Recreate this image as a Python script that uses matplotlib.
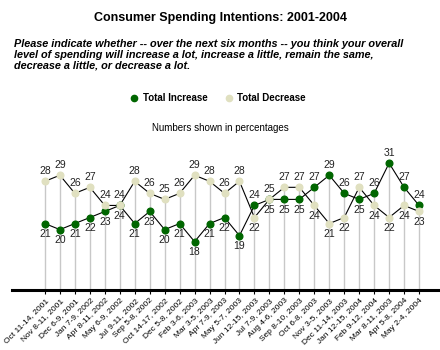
import matplotlib
matplotlib.use("Agg")
import matplotlib.pyplot as plt

plt.rcParams['font.family'] = ['Liberation Sans', 'DejaVu Sans']

# Data
dates = ["Oct 11-14, 2001", "Nov 8-11, 2001", "Dec 6-9, 2001", "Jan 7-9, 2002",
         "Apr 8-11, 2002", "May 6-9, 2002", "Jul 9-11, 2002", "Sep 5-8, 2002",
         "Oct 14-17, 2002", "Dec 5-8, 2002", "Feb 3-6, 2003", "Mar 3-5, 2003",
         "Apr 7-9, 2003", "May 5-7, 2003", "Jun 12-15, 2003", "Jul 7-9, 2003",
         "Aug 4-6, 2003", "Sep 8-10, 2003", "Oct 6-8, 2003", "Nov 3-5, 2003",
         "Dec 11-14, 2003", "Jan 12-15, 2004", "Feb 9-12, 2004", "Mar 8-11, 2003",
         "Apr 5-8, 2004", "May 2-4, 2004"]
total_increase = [21, 20, 21, 22, 23, 24, 21, 23, 20, 21, 18, 21, 22, 19, 24,
                  25, 25, 25, 27, 29, 26, 25, 26, 31, 27, 24]
total_decrease = [28, 29, 26, 27, 24, 24, 28, 26, 25, 26, 29, 28, 26, 28, 22,
                  25, 27, 27, 24, 21, 22, 27, 24, 22, 24, 23]

GREEN = '#006600'
BEIGE = '#E0E0C0'

fig = plt.figure(figsize=(4.4, 3.5), dpi=100)
ax = fig.add_axes([12 / 440, 60 / 350, 428 / 440, 151 / 350])

x = list(range(len(dates)))
ymin = 10

# drop lines from the top point to the axis
for i in x:
    top = max(total_increase[i], total_decrease[i])
    ax.plot([i, i], [ymin, top], color='#C8C8C8', lw=1, zorder=1)

ax.plot(x, total_increase, color='black', lw=0.8, zorder=2)
ax.plot(x, total_decrease, color='black', lw=0.8, zorder=2)
ax.plot(x, total_increase, 'o', color=GREEN, ms=4.8, zorder=3)
ax.plot(x, total_decrease, 'o', color=BEIGE, ms=4.8, zorder=4)

# data labels: higher value above, lower below
for i in x:
    inc, dec = total_increase[i], total_decrease[i]
    if inc > dec:
        above, below = inc, dec
    else:
        above, below = dec, inc
    ax.annotate(str(above), (i, above), xytext=(0, 4), textcoords='offset points',
                ha='center', va='bottom', fontsize=7.5, color='#222222')
    ax.annotate(str(below), (i, below), xytext=(0, -4), textcoords='offset points',
                ha='center', va='top', fontsize=7.5, color='#222222')

ax.set_xlim(-2.2, 26.4)
ax.set_ylim(ymin, 35)
for s in ['top', 'right', 'left']:
    ax.spines[s].set_visible(False)
ax.spines['bottom'].set_linewidth(2.2)
ax.set_yticks([])
ax.set_xticks(x)
ax.set_xticklabels(dates, rotation=45, ha='right', rotation_mode='anchor',
                   fontsize=6)
ax.tick_params(axis='x', length=3, width=0.8, pad=2)

fig.text(0.5, 1 - 18 / 350, "Consumer Spending Intentions: 2001-2004",
         ha='center', va='center', fontsize=9, fontweight='bold')
fig.text(14 / 440, 1 - 39 / 350,
         "Please indicate whether -- over the next six months -- you think your overall\n"
         "level of spending will increase a lot, increase a little, remain the same,\n"
         "decrease a little, or decrease a lot.",
         ha='left', va='top', fontsize=7.8, fontweight='bold', style='italic',
         linespacing=1.12)

# legend
fig.lines.append(plt.Line2D([134 / 440], [1 - 98 / 350], marker='o', color=GREEN,
                            ms=4.5, transform=fig.transFigure))
fig.text(143 / 440, 1 - 98 / 350, "Total Increase", ha='left', va='center',
         fontsize=7, fontweight='bold')
fig.lines.append(plt.Line2D([229 / 440], [1 - 98 / 350], marker='o', color=BEIGE,
                            ms=4.5, transform=fig.transFigure))
fig.text(237 / 440, 1 - 98 / 350, "Total Decrease", ha='left', va='center',
         fontsize=7, fontweight='bold')

fig.text(0.5, 1 - 128 / 350, "Numbers shown in percentages", ha='center',
         va='center', fontsize=7)

fig.savefig("out.png", dpi=100)
